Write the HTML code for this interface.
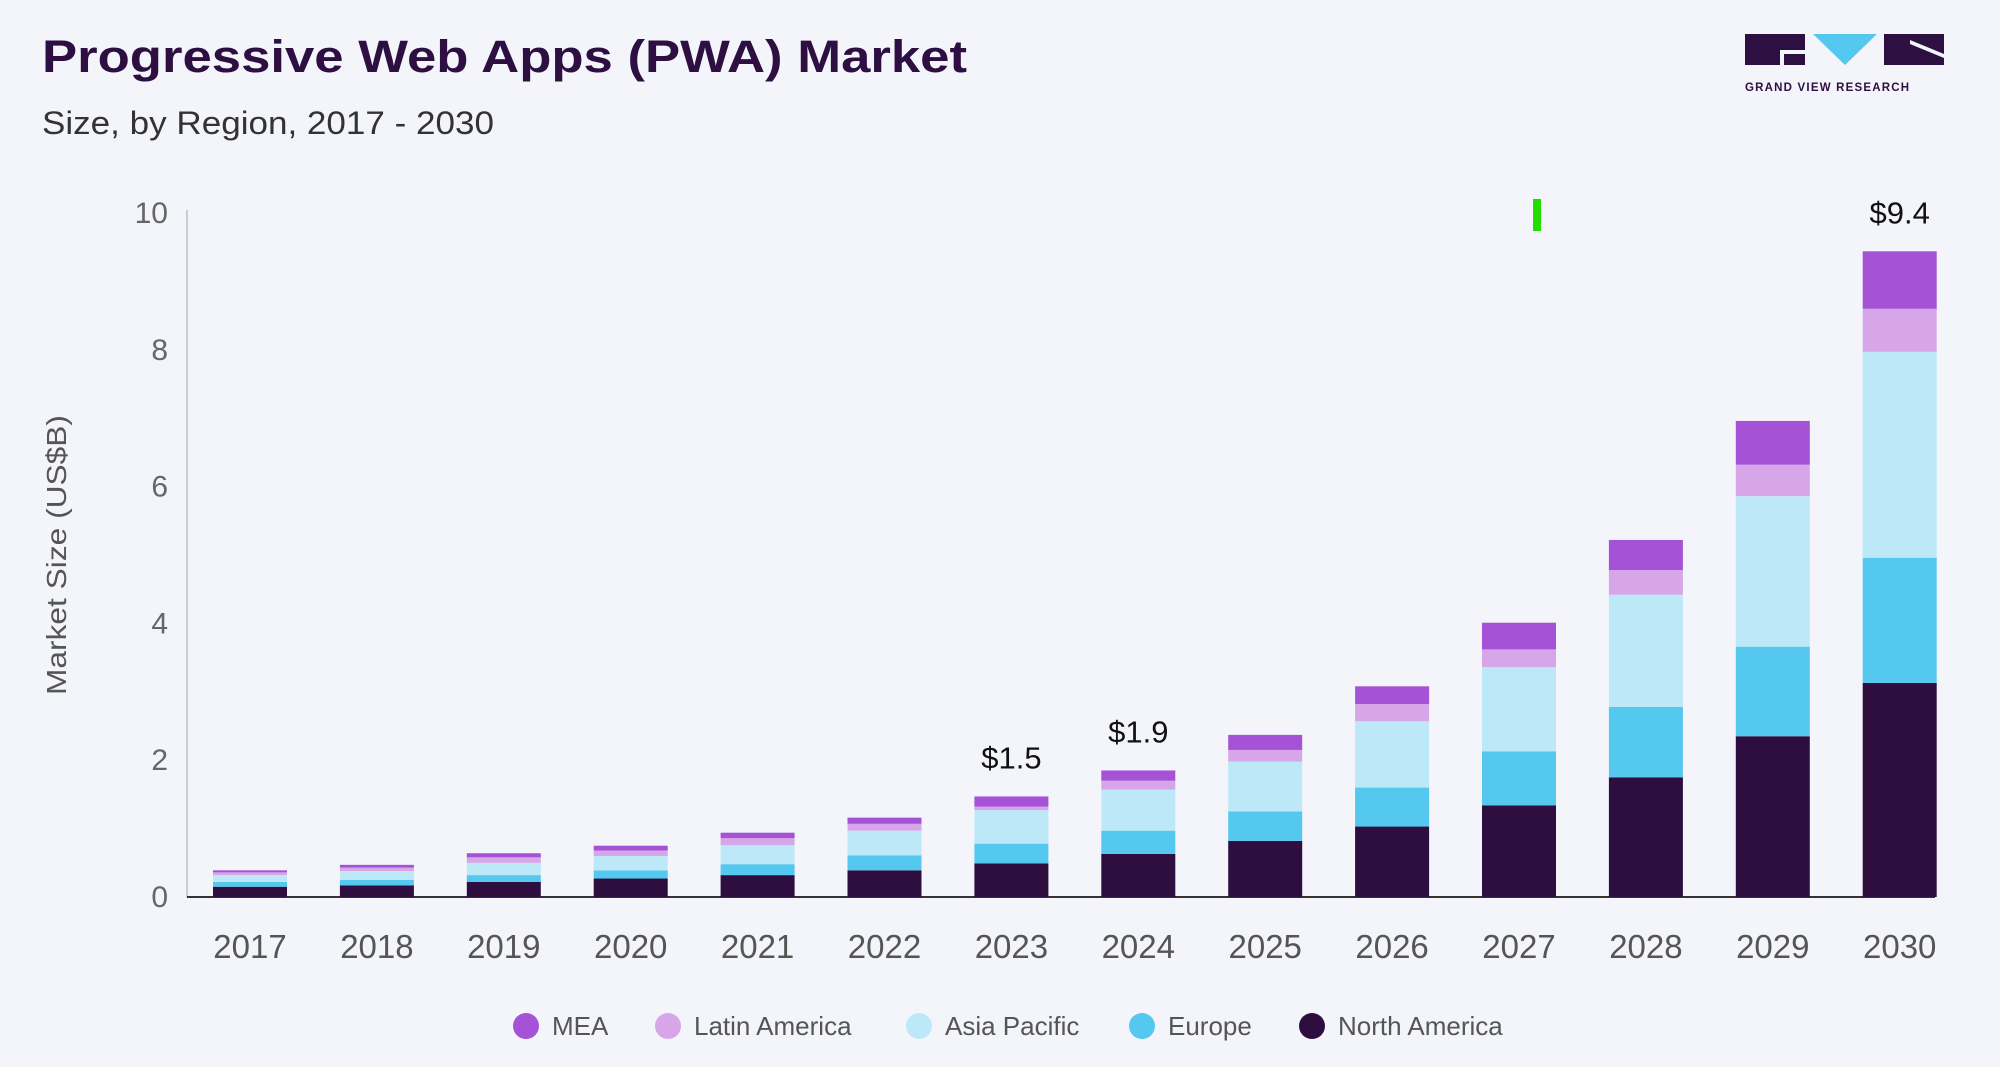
<!DOCTYPE html>
<html><head><meta charset="utf-8"><style>
html,body{margin:0;padding:0;background:#f3f5fb;}
svg{display:block;font-family:"Liberation Sans",Arial,sans-serif;}
</style></head><body>
<svg id="chart" width="2000" height="1067" viewBox="0 0 2000 1067">
<rect width="2000" height="1067" fill="#f3f5fb"/>
<text x="42" y="72" font-size="45" font-weight="bold" fill="#2d0f42" textLength="925" lengthAdjust="spacingAndGlyphs">Progressive Web Apps (PWA) Market</text>
<text x="42" y="134" font-size="32" fill="#333" textLength="452" lengthAdjust="spacingAndGlyphs">Size, by Region, 2017 - 2030</text>
<g>
<path d="M1745 34h60v31h-60z" fill="#2d0f42"/>
<path d="M1780 50h25v4h-21v11h-4z" fill="#f3f5fb"/>
<path d="M1813 34h64l-32 31z" fill="#55c8ef"/>
<path d="M1884 34h60v31h-60z" fill="#2d0f42"/>
<path d="M1910 40l34 14v4l-34-14z" fill="#f3f5fb"/>
<text x="1745" y="91" font-size="11.5" font-weight="bold" fill="#2d0f42" letter-spacing="1.2">GRAND VIEW RESEARCH</text>
</g>
<rect x="1533" y="199" width="8" height="32" fill="#22dd00"/>
<text transform="translate(66 555) rotate(-90)" text-anchor="middle" font-size="28" fill="#555" textLength="280" lengthAdjust="spacingAndGlyphs">Market Size (US$B)</text>
<g id="yaxis"></g><g id="bars"></g><g id="xaxis"></g>
<g id="legend"></g>
</svg>
<script>
const years=["2017","2018","2019","2020","2021","2022","2023","2024","2025","2026","2027","2028","2029","2030"];
const northAmerica=[0.15,0.17,0.22,0.27,0.32,0.39,0.49,0.63,0.82,1.03,1.34,1.75,2.35,3.13];
const europe=[0.07,0.08,0.1,0.12,0.16,0.22,0.29,0.34,0.43,0.57,0.79,1.03,1.31,1.83];
const asiaPacific=[0.1,0.13,0.18,0.21,0.28,0.36,0.49,0.6,0.73,0.97,1.23,1.64,2.2,3.01];
const latinAmerica=[0.04,0.05,0.08,0.08,0.1,0.1,0.05,0.13,0.17,0.25,0.26,0.36,0.46,0.63];
const mea=[0.03,0.04,0.06,0.07,0.08,0.09,0.15,0.15,0.22,0.26,0.39,0.44,0.64,0.84];
const totalLabels=["","","","","","","$1.5","$1.9","","","","","","$9.4"];
const yTicks=[0,2,4,6,8,10];
const seriesNames=["MEA","Latin America","Asia Pacific","Europe","North America"];
const seriesColors=["#a552d6","#d7a6e8","#bde8f8","#55c8ef","#2d0e3e"];
const NS="http://www.w3.org/2000/svg";
const y0=897,y1=213,yMax=10;
const yScale=v=>y0-(v/yMax)*(y0-y1);
const x0=250,step=126.9,bw=74;
const xScale=i=>x0+i*step;
function mk(tag,attrs,parent){const e=document.createElementNS(NS,tag);for(const k in attrs)e.setAttribute(k,attrs[k]);parent.appendChild(e);return e;}
const ya=document.getElementById('yaxis');
yTicks.forEach(t=>{const e=mk('text',{x:168,y:yScale(t)+10,'text-anchor':'end','font-size':30,fill:'#666'},ya);e.textContent=t;

});
const al=mk('line',{x1:187,y1:210,x2:187,y2:897,stroke:'#ccc','stroke-width':2},ya);


const bl=mk('line',{x1:187,y1:897,x2:1935,y2:897,stroke:'#333','stroke-width':2},ya);


const bars=document.getElementById('bars'),xa=document.getElementById('xaxis');
const stack=[northAmerica,europe,asiaPacific,latinAmerica,mea];
const cols=["#2d0e3e","#55c8ef","#bde8f8","#d7a6e8","#a552d6"];
const keys=["north-america","europe","asia-pacific","latin-america","mea"];
years.forEach((yr,i)=>{
  let cum=0;const cx=xScale(i);
  stack.forEach((s,k)=>{
    const top=yScale(cum+s[i]),bot=yScale(cum);cum+=s[i];
    const r=mk('rect',{x:cx-bw/2,y:top,width:bw,height:Math.max(0,bot-top),fill:cols[k]},bars);
    
    
  });
  if(totalLabels[i]){const t=mk('text',{x:cx,y:yScale(cum)-28,'text-anchor':'middle','font-size':31,fill:'#111'},bars);t.textContent=totalLabels[i];
  
  }
  const xl=mk('text',{x:cx,y:958,'text-anchor':'middle','font-size':33,fill:'#555'},xa);xl.textContent=yr;
  
  
});
const lg=document.getElementById('legend');
const lx=[526,668,919,1142,1312];
seriesNames.forEach((n,k)=>{
  const g=mk('g',{},lg);
  
  
  mk('circle',{cx:lx[k],cy:1026,r:13,fill:seriesColors[k]},g);
  const t=mk('text',{x:lx[k]+26,y:1035,'font-size':26,fill:'#555'},g);t.textContent=n;
});
</script>
</body></html>
